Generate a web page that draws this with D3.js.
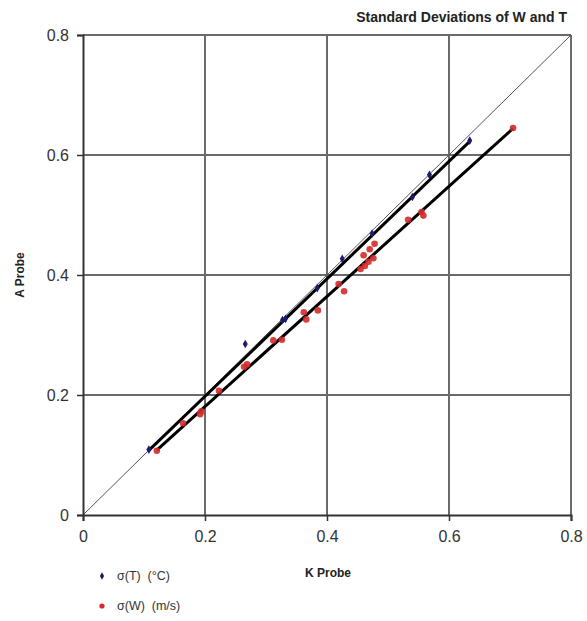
<!DOCTYPE html>
<html><head><meta charset="utf-8">
<script src="https://cdn.jsdelivr.net/npm/d3@7"></script>
<style>body{margin:0;background:#fff;} svg{display:block;} text{white-space:pre;}</style>
</head><body>
<svg id="c" width="587" height="621"></svg>
<script>
const ticks = [0, 0.2, 0.4, 0.6, 0.8];
const tickLabels = ["0", "0.2", "0.4", "0.6", "0.8"];
const tempX = [0.108, 0.266, 0.327, 0.332, 0.384, 0.425, 0.474, 0.540, 0.568, 0.634];
const tempY = [0.109, 0.285, 0.325, 0.327, 0.378, 0.427, 0.469, 0.530, 0.567, 0.624];
const windX = [0.121, 0.164, 0.192, 0.194, 0.223, 0.264, 0.269, 0.312, 0.326, 0.362, 0.366, 0.385, 0.419, 0.428, 0.455, 0.462, 0.468, 0.476, 0.460, 0.470, 0.478, 0.533, 0.555, 0.558, 0.705];
const windY = [0.107, 0.153, 0.168, 0.173, 0.207, 0.247, 0.251, 0.291, 0.292, 0.338, 0.326, 0.341, 0.385, 0.373, 0.410, 0.415, 0.422, 0.428, 0.433, 0.443, 0.452, 0.492, 0.505, 0.499, 0.645];
// trend lines: [slope, intercept]
const tempFit = [0.979, 0.002];
const windFit = [0.918, -0.003];
const seriesNames = ["\u03c3(T)  (\u00b0C)", "\u03c3(W)  (m/s)"];
const colors = ["#1c1c6b", "#d42a2a"];

const svg = d3.select("#c");
const x = d3.scaleLinear().domain([0, 0.8]).range([83, 571]);
const y = d3.scaleLinear().domain([0, 0.8]).range([515, 35]);

// grid
const g = svg.append("g");
g.selectAll("line.v").data(ticks.slice(1)).join("line")
  .attr("x1", d => x(d)).attr("x2", d => x(d)).attr("y1", y(0)).attr("y2", y(0.8))
  .attr("stroke", "#6a6a6a").attr("stroke-width", 2);
g.selectAll("line.h").data(ticks.slice(1)).join("line")
  .attr("y1", d => y(d)).attr("y2", d => y(d)).attr("x1", x(0)).attr("x2", x(0.8))
  .attr("stroke", "#6a6a6a").attr("stroke-width", 2);

// 1:1 line
svg.append("line").attr("x1", x(0)).attr("y1", y(0)).attr("x2", x(0.8)).attr("y2", y(0.8))
  .attr("stroke", "#555").attr("stroke-width", 1);

// axes
const xAxis = d3.axisBottom(x).tickValues(ticks).tickFormat((d, i) => tickLabels[i]).tickSize(6).tickPadding(10);
const yAxis = d3.axisLeft(y).tickValues(ticks).tickFormat((d, i) => tickLabels[i]).tickSize(6).tickPadding(8);
const ax = svg.append("g").attr("transform", `translate(0,${y(0)})`).call(xAxis);
const ay = svg.append("g").attr("transform", `translate(${x(0)},0)`).call(yAxis);
[ax, ay].forEach(a => {
  a.select(".domain").attr("stroke", "#333").attr("stroke-width", 2);
  a.selectAll(".tick line").attr("stroke", "#333").attr("stroke-width", 1.5);
  a.selectAll(".tick text").attr("font-family", "Liberation Sans, Arial, sans-serif")
    .attr("font-size", 16).attr("fill", "#333");
});

// fit lines
function fitLine(xs, fit) {
  const x0 = d3.min(xs), x1 = d3.max(xs);
  svg.append("line").attr("x1", x(x0)).attr("y1", y(fit[0] * x0 + fit[1]))
    .attr("x2", x(x1)).attr("y2", y(fit[0] * x1 + fit[1]))
    .attr("stroke", "#000").attr("stroke-width", 3);
}
fitLine(tempX, tempFit);
fitLine(windX, windFit);

// points
svg.append("g").selectAll("circle").data(windX).join("circle")
  .attr("cx", d => x(d)).attr("cy", (d, i) => y(windY[i])).attr("r", 3.3)
  .attr("fill", colors[1]).attr("opacity", 0.9);
svg.append("g").selectAll("path").data(tempX).join("path")
  .attr("transform", (d, i) => `translate(${x(d)},${y(tempY[i])})`)
  .attr("d", d3.symbol().type(d3.symbolDiamond).size(22))
  .attr("fill", colors[0]);

// title and labels
const bold = "Liberation Sans, Arial, sans-serif";
svg.append("text").attr("x", 567).attr("y", 22).attr("text-anchor", "end")
  .attr("font-family", bold).attr("font-weight", "bold").attr("font-size", 14).attr("fill", "#222")
  .text("Standard Deviations of W and T");
svg.append("text").attr("x", 328).attr("y", 577).attr("text-anchor", "middle")
  .attr("font-family", bold).attr("font-weight", "bold").attr("font-size", 12).attr("fill", "#222")
  .text("K Probe");
svg.append("text").attr("transform", "translate(24,275) rotate(-90)").attr("text-anchor", "middle")
  .attr("font-family", bold).attr("font-weight", "bold").attr("font-size", 12).attr("fill", "#222")
  .text("A Probe");

// legend
const leg = svg.append("g");
seriesNames.forEach((name, i) => {
  const ly = 576 + i * 30;
  if (i === 0) {
    leg.append("path").attr("transform", `translate(102,${ly})`)
      .attr("d", d3.symbol().type(d3.symbolDiamond).size(16)).attr("fill", colors[0]);
  } else {
    leg.append("circle").attr("cx", 102).attr("cy", ly).attr("r", 2.6).attr("fill", colors[1]);
  }
  leg.append("text").attr("x", 117).attr("y", ly + 4)
    .attr("font-family", bold).attr("font-size", 12.5).attr("fill", "#333").text(name);
});
</script>
</body></html>
